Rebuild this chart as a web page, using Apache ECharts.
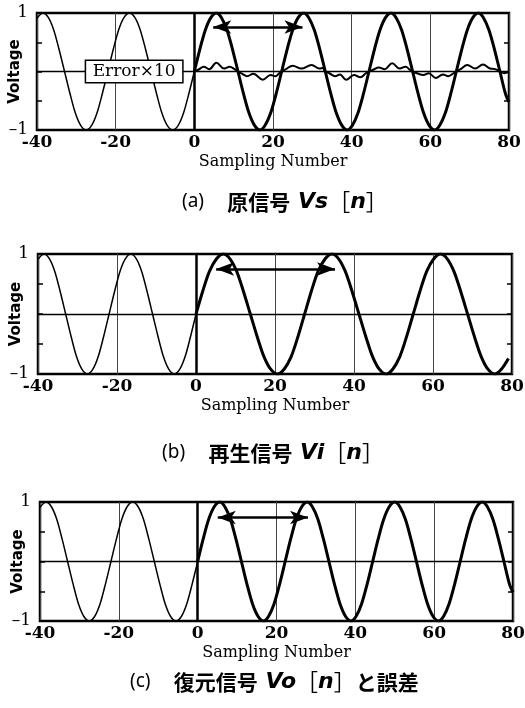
<!DOCTYPE html>
<html>
<head>
<meta charset="utf-8">
<script src="https://cdn.jsdelivr.net/npm/echarts@6/dist/echarts.min.js"></script>
<style>
  html, body { margin: 0; padding: 0; background: #fff; }
  #chart { width: 525px; height: 708px; }
</style>
</head>
<body>
<div id="chart"></div>
<script>
// x ticks: sampling number
const xTicks = [-40, -20, 0, 20, 40, 60, 80];
const yTickLabels = { '1': '1', '-1': '\u20131' };

// left half (n < 0), thin line, same in all panels  [n, volt]
const pastWave = [
  [-40, 0.91], [-38.5, 1], [-37.1, 0.92], [-35.75, 0.71], [-34.4, 0.38], [-33, 0],
  [-31.6, -0.38], [-30.25, -0.71], [-28.9, -0.92], [-27.5, -1], [-26.1, -0.92], [-24.75, -0.71],
  [-23.4, -0.38], [-22, 0], [-20.6, 0.38], [-19.25, 0.71], [-17.9, 0.92], [-16.5, 1],
  [-15.1, 0.92], [-13.75, 0.71], [-12.4, 0.38], [-11, 0], [-9.6, -0.38], [-8.25, -0.71],
  [-6.9, -0.92], [-5.5, -1], [-4.1, -0.92], [-2.75, -0.71], [-1.4, -0.38], [0, 0]
];

// right half (n >= 0), thick line, panels (a) and (c)
const shortWave = [
  [0, 0], [1.4, 0.38], [2.8, 0.71], [4.2, 0.92], [5.6, 1], [6.9, 0.92], [8.3, 0.71], [9.7, 0.38],
  [11.1, 0], [12.5, -0.38], [13.9, -0.71], [15.3, -0.92], [16.7, -1], [18, -0.92], [19.4, -0.71], [20.8, -0.38],
  [22.2, 0], [23.6, 0.38], [25, 0.71], [26.4, 0.92], [27.8, 1], [29.1, 0.92], [30.5, 0.71], [31.9, 0.38],
  [33.3, 0], [34.7, -0.38], [36.1, -0.71], [37.5, -0.92], [38.9, -1], [40.2, -0.92], [41.6, -0.71], [43, -0.38],
  [44.4, 0], [45.8, 0.38], [47.2, 0.71], [48.6, 0.92], [50, 1], [51.3, 0.92], [52.7, 0.71], [54.1, 0.38],
  [55.5, 0], [56.9, -0.38], [58.3, -0.71], [59.7, -0.92], [61.1, -1], [62.4, -0.92], [63.8, -0.71], [65.2, -0.38],
  [66.6, 0], [68, 0.38], [69.4, 0.71], [70.8, 0.92], [72.2, 1], [73.5, 0.92], [74.9, 0.71], [76.3, 0.38],
  [77.7, 0], [79.1, -0.38], [80, -0.52]
];

// right half, panel (b): stretched period
const longWave = [
  [0, 0], [1.7, 0.38], [3.4, 0.71], [5.2, 0.92], [6.9, 1], [8.6, 0.92], [10.3, 0.71], [12, 0.38],
  [13.75, 0], [15.5, -0.38], [17.2, -0.71], [18.9, -0.92], [20.6, -1], [22.3, -0.92], [24.1, -0.71], [25.8, -0.38],
  [27.5, 0], [29.2, 0.38], [30.9, 0.71], [32.7, 0.92], [34.4, 1], [36.1, 0.92], [37.8, 0.71], [39.5, 0.38],
  [41.25, 0], [43, -0.38], [44.7, -0.71], [46.4, -0.92], [48.1, -1], [49.8, -0.92], [51.6, -0.71], [53.3, -0.38],
  [55, 0], [56.7, 0.38], [58.4, 0.71], [60.2, 0.92], [61.9, 1], [63.6, 0.92], [65.3, 0.71], [67, 0.38],
  [68.75, 0], [70.5, -0.38], [72.2, -0.71], [73.9, -0.92], [75.6, -1], [77.3, -0.92], [79.1, -0.74]
];

// error x 10, top panel
const errorWave = [
  [0, 0], [1, 0.03], [2.4, 0.08], [3.8, 0.04], [5.6, 0.15], [7.6, 0.05], [9, 0.08], [10.2, 0.04], [11.1, 0],
  [12.2, -0.04], [13.4, -0.08], [15, -0.04], [17.4, -0.14], [19.4, -0.06], [20.6, -0.08], [21.6, -0.03], [22.2, 0],
  [23.3, 0.04], [25, 0.1], [27.2, 0.05], [29.8, 0.11], [31.8, 0.05], [32.6, 0.06], [33.3, 0],
  [34.3, -0.03], [35.8, -0.08], [37, -0.05], [38.6, -0.14], [40.6, -0.06], [42.2, -0.1], [43.6, -0.03], [44.4, 0],
  [45.5, 0.03], [46.9, 0.07], [48.4, 0.04], [50.3, 0.14], [52.2, 0.05], [53.7, 0.08], [54.8, 0.03], [55.5, 0],
  [56.6, -0.03], [58.2, -0.06], [59.6, -0.03], [61.4, -0.11], [63.2, -0.05], [64.6, -0.08], [65.9, -0.03], [66.6, 0],
  [67.7, 0.04], [69.4, 0.11], [71.4, 0.05], [73.4, 0.12], [75.2, 0.05], [76.5, 0.04], [77.7, 0],
  [78.8, -0.03], [80, 0]
];

// double arrows [from n, to n, volt] (arrow tips)
const arrows = [[4.8, 27.5, 0.76], [5.1, 35.2, 0.75], [5.1, 28, 0.74]];
const errorLabelAt = [-15.3, 0];

const captions = [
  '{p|(a)}{s|\u3000 }{c|原信号}{i| Vs}{b|［}{i|n}{b|］}',
  '{p|(b)}{s|\u3000 }{c|再生信号}{i| Vi}{b|［}{i|n}{b|］}',
  '{p|(c)}{s|\u3000 }{c|復元信号}{i| Vo}{b|［}{i|n}{b|］}{c|と誤差}'
];

const grids = [
  { left: 37, right: 16, top: 13, height: 117 },
  { left: 38, right: 13, top: 254, height: 120 },
  { left: 40, right: 12, top: 502, height: 119 }
];
const captionPos = [[182, 189], [162, 440], [130, 669]];
const rightWaves = [shortWave, longWave, shortWave];

const chart = echarts.init(document.getElementById('chart'));

const xAxis = [], yAxis = [], series = [], title = [];
grids.forEach((g, i) => {
  xAxis.push({
    type: 'value', gridIndex: i, min: xTicks[0], max: xTicks[xTicks.length - 1], interval: 20,
    axisLine: { show: false, onZero: false }, axisTick: { show: false },
    axisLabel: { color: '#000', fontFamily: 'DejaVu Serif', fontWeight: 'bold', fontSize: 17, margin: 4 },
    splitLine: { show: true, lineStyle: { color: '#444', width: 1 } },
    name: 'Sampling Number', nameLocation: 'middle', nameGap: 24, nameMoveOverlap: false,
    nameTextStyle: { fontFamily: 'DejaVu Serif', fontSize: 16, color: '#000' }
  });
  yAxis.push({
    type: 'value', gridIndex: i, min: -1, max: 1, interval: 0.5, position: 'left',
    axisLine: { show: false, onZero: false },
    axisTick: { show: true, inside: true, length: 5, lineStyle: { color: '#000', width: 1.5 } },
    axisLabel: {
      color: '#000', fontFamily: 'DejaVu Serif', fontSize: 17, margin: 9,
      formatter: v => yTickLabels[String(v)] || ''
    },
    splitLine: { show: false },
    name: 'Voltage', nameLocation: 'middle', nameGap: 14, nameMoveOverlap: false,
    nameTextStyle: { fontFamily: 'DejaVu Sans', fontWeight: 'bold', fontSize: 15, color: '#000' }
  });
  yAxis.push({
    type: 'value', gridIndex: i, min: -1, max: 1, interval: 0.5, position: 'right',
    axisLine: { show: false, onZero: false }, axisLabel: { show: false }, splitLine: { show: false },
    axisTick: { show: true, inside: true, length: 5, lineStyle: { color: '#000', width: 1.5 } }
  });

  series.push({
    type: 'line', xAxisIndex: i, yAxisIndex: 2 * i, data: pastWave, smooth: 0.3,
    symbol: 'none', z: 2, lineStyle: { color: '#000', width: 1.5 },
    markLine: {
      silent: true, symbol: 'none', label: { show: false },
      lineStyle: { color: '#000', width: 1.3, type: 'solid' },
      data: [{ yAxis: 0 }, { xAxis: 0, lineStyle: { width: 2.5 } }]
    }
  });
  const a = arrows[i];
  series.push({
    type: 'line', xAxisIndex: i, yAxisIndex: 2 * i, data: rightWaves[i], smooth: 0.3,
    symbol: 'none', z: 3, lineStyle: { color: '#000', width: 3 },
    markLine: {
      silent: true, symbol: ['arrow', 'arrow'], symbolSize: [10, 18], label: { show: false },
      lineStyle: { color: '#000', width: 2.5, type: 'solid' },
      data: [[{ coord: [a[0], a[2]] }, { coord: [a[1], a[2]] }]]
    }
  });

  title.push({
    text: captions[i], left: captionPos[i][0], top: captionPos[i][1], padding: 0,
    textStyle: {
      rich: {
        p: { fontFamily: 'Noto Sans', fontWeight: 'normal', fontSize: 19, color: '#000', lineHeight: 26 },
        s: { fontFamily: 'Noto Sans CJK JP', fontSize: 19, lineHeight: 26 },
        c: { fontFamily: 'Noto Sans CJK JP', fontWeight: 'bold', fontSize: 21, color: '#000', lineHeight: 26 },
        b: { fontFamily: 'Noto Sans CJK JP', fontWeight: 'normal', fontSize: 22, color: '#000', lineHeight: 26 },
        i: { fontFamily: 'DejaVu Sans', fontWeight: 'bold', fontStyle: 'italic', fontSize: 22, color: '#000', lineHeight: 26 }
      }
    }
  });
});

series.push({
  type: 'line', xAxisIndex: 0, yAxisIndex: 0, data: errorWave, smooth: 0.4,
  symbol: 'none', z: 4, lineStyle: { color: '#000', width: 2 },
  markPoint: {
    z: 10, silent: true, symbol: 'circle', symbolSize: 1,
    itemStyle: { color: 'rgba(0,0,0,0)' },
    label: {
      show: true, position: 'inside', formatter: 'Error\u00d710', color: '#000',
      fontFamily: 'DejaVu Serif', fontSize: 17,
      backgroundColor: '#fff', borderColor: '#000', borderWidth: 1.5,
      padding: [2, 6, 1, 6], width: 84, height: 18, align: 'center', verticalAlign: 'middle'
    },
    data: [{ coord: errorLabelAt }]
  }
});

chart.setOption({
  animation: false,
  backgroundColor: '#fff',
  title: title,
  grid: grids.map(g => Object.assign({
    show: true, borderColor: '#000', borderWidth: 2.5, containLabel: false, outerBoundsMode: 'none'
  }, g)),
  xAxis: xAxis,
  yAxis: yAxis,
  series: series
});
</script>
</body>
</html>
